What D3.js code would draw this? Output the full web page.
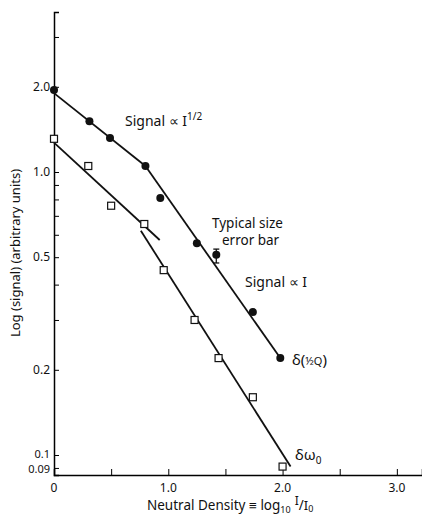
<!DOCTYPE html>
<html>
<head>
<meta charset="utf-8">
<script src="https://cdn.jsdelivr.net/npm/d3@7"></script>
<style>
body { margin: 0; background: #fff; }
text { font-family: "Noto Sans", sans-serif; fill: #111; }
</style>
</head>
<body>
<svg id="chart" width="422" height="517"></svg>
<script>
// neutral density values and signals
var ndSignal = [0, 0.31, 0.49, 0.80, 0.93, 1.25, 1.42, 1.74, 1.98];
var signal   = [1.95, 1.51, 1.32, 1.05, 0.81, 0.56, 0.51, 0.32, 0.22];
var ndOmega  = [0, 0.30, 0.50, 0.79, 0.96, 1.23, 1.44, 1.74, 2.00];
var omega    = [1.31, 1.05, 0.76, 0.655, 0.45, 0.30, 0.22, 0.16, 0.091];

// fitted straight lines (ends of each segment)
var fitSignalA = [[0, 1.90], [0.80, 1.05]];
var fitSignalB = [[0.80, 1.05], [1.98, 0.22]];
var fitOmegaA  = [[0, 1.27], [0.925, 0.575]];
var fitOmegaB  = [[0.76, 0.62], [2.07, 0.091]];

var errorBar = {nd: 1.42, lo: 0.477, hi: 0.534};

var xTicks = [0, 0.5, 1, 1.5, 2, 2.5, 3];
var xLabels = {0: "0", 1: "1.0", 2: "2.0", 3: "3.0"};
var yTicks = [3, 2, 1, 0.9, 0.8, 0.7, 0.6, 0.5, 0.4, 0.3, 0.2, 0.1, 0.09];
var yLabels = {2: "2.0", 1: "1.0", 0.5: "0.5", 0.2: "0.2", 0.1: "0.1", 0.09: "0.09"};

var svg = d3.select("#chart");
var x = d3.scaleLinear().domain([0, 3.22]).range([54, 422]);
var y = d3.scaleLog().domain([0.1 * Math.pow(10, -20 / 283), Math.pow(10, 160 / 283)]).range([475, 12]);

// axes
var xAxis = d3.axisTop(x).tickValues(xTicks).tickSize(6).tickFormat("");
svg.append("g").attr("transform", "translate(0,475)").call(xAxis)
  .call(function(g) { g.select(".domain").attr("stroke-width", 1.5); });
svg.selectAll(".xl").data(xTicks.filter(function(d) { return xLabels[d]; }))
  .join("text").attr("x", function(d) { return x(d); }).attr("y", 492)
  .attr("text-anchor", "middle").attr("font-size", 12)
  .text(function(d) { return xLabels[d]; });

var yAxis = d3.axisRight(y).tickValues(yTicks).tickSize(5).tickFormat("");
svg.append("g").attr("transform", "translate(54,0)").call(yAxis)
  .call(function(g) { g.select(".domain").attr("stroke-width", 1.5); });
// 0.1 and 0.09 sit very close, so nudge them apart a little
svg.selectAll(".yl").data(yTicks.filter(function(d) { return yLabels[d]; }))
  .join("text").attr("x", 50)
  .attr("y", function(d) { return y(d) + (d === 0.1 ? 2.5 : d === 0.09 ? 5 : 4); })
  .attr("text-anchor", "end").attr("font-size", function(d) { return d < 0.15 ? 11 : 12; })
  .text(function(d) { return yLabels[d]; });

// fit lines
var line = d3.line().x(function(d) { return x(d[0]); }).y(function(d) { return y(d[1]); });
[fitSignalA, fitSignalB, fitOmegaA, fitOmegaB].forEach(function(f) {
  svg.append("path").attr("d", line(f)).attr("fill", "none")
    .attr("stroke", "#111").attr("stroke-width", 1.8);
});

// error bar
var eb = svg.append("g").attr("stroke", "#111").attr("stroke-width", 1.3);
eb.append("line").attr("x1", x(errorBar.nd)).attr("x2", x(errorBar.nd))
  .attr("y1", y(errorBar.hi)).attr("y2", y(errorBar.lo));
[errorBar.hi, errorBar.lo].forEach(function(v) {
  eb.append("line").attr("x1", x(errorBar.nd) - 3).attr("x2", x(errorBar.nd) + 3)
    .attr("y1", y(v)).attr("y2", y(v));
});

// points
svg.selectAll(".dot").data(d3.zip(ndSignal, signal)).join("circle")
  .attr("cx", function(d) { return x(d[0]); }).attr("cy", function(d) { return y(d[1]); })
  .attr("r", 4).attr("fill", "#111");
svg.selectAll(".sq").data(d3.zip(ndOmega, omega)).join("rect")
  .attr("x", function(d) { return x(d[0]) - 3.5; }).attr("y", function(d) { return y(d[1]) - 3.5; })
  .attr("width", 7).attr("height", 7).attr("fill", "#fff")
  .attr("stroke", "#111").attr("stroke-width", 1.2);

// annotations
var t1 = svg.append("text").attr("x", 125).attr("y", 126).attr("font-size", 14);
t1.append("tspan").text("Signal ∝ I");
t1.append("tspan").attr("dy", -6).attr("font-size", 10).text("1/2");

svg.append("text").attr("x", 212).attr("y", 228).attr("font-size", 13.5).text("Typical size");
svg.append("text").attr("x", 222).attr("y", 245).attr("font-size", 13.5).text("error bar");
svg.append("text").attr("x", 245).attr("y", 287).attr("font-size", 14).text("Signal ∝ I");

var t2 = svg.append("text").attr("x", 292).attr("y", 365).attr("font-size", 15);
t2.append("tspan").text("δ(");
t2.append("tspan").attr("font-size", 11).text("½Q");
t2.append("tspan").text(")");

var t3 = svg.append("text").attr("x", 295).attr("y", 460).attr("font-size", 15);
t3.append("tspan").text("δω");
t3.append("tspan").attr("dy", 4).attr("font-size", 10).text("0");

var xl = svg.append("text").attr("x", 147).attr("y", 510).attr("font-size", 13.5);
xl.append("tspan").text("Neutral Density ≡ log");
xl.append("tspan").attr("dy", 3).attr("font-size", 9).text("10");
xl.append("tspan").attr("dy", -8).attr("dx", 4).attr("font-size", 12).text("I");
xl.append("tspan").attr("dy", 5).text("/");
xl.append("tspan").attr("dy", 0).attr("font-size", 13).text("I");
xl.append("tspan").attr("dy", 2).attr("font-size", 9).text("0");

svg.append("text").attr("transform", "translate(20,253) rotate(-90)")
  .attr("text-anchor", "middle").attr("font-size", 13)
  .text("Log (signal) (arbitrary units)");
</script>
</body>
</html>
